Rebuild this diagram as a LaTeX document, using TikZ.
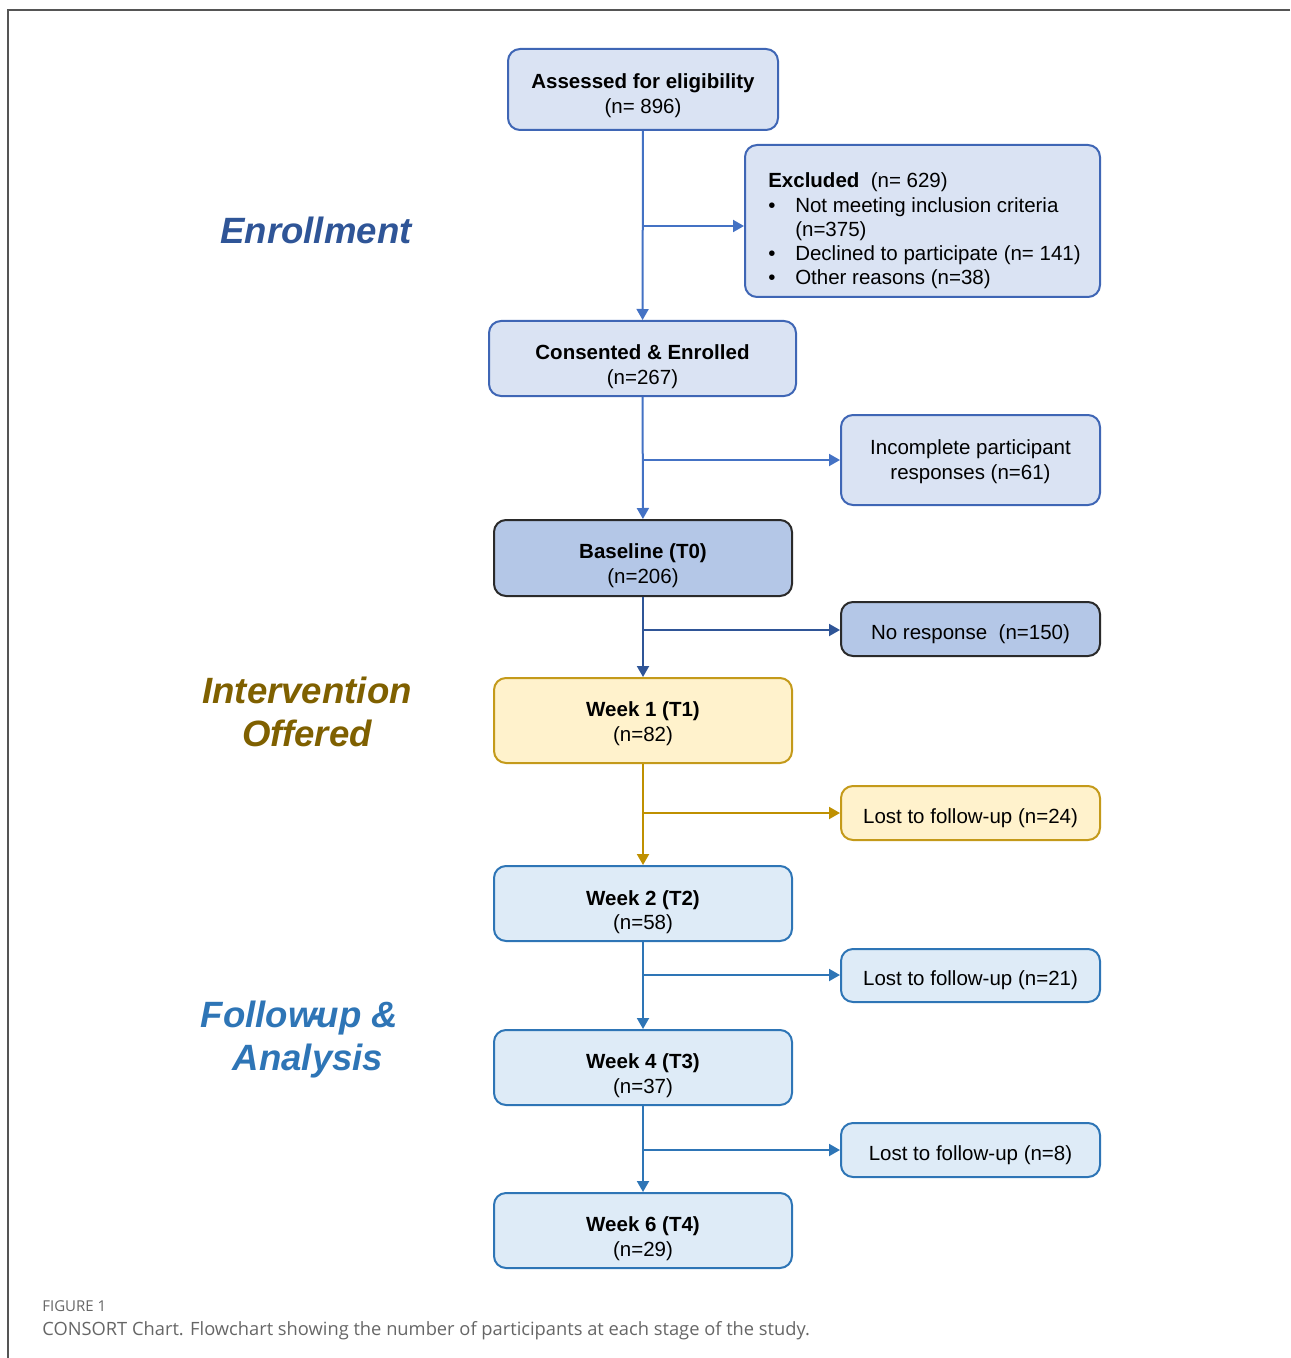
\documentclass[tikz,border=0pt]{standalone}
\usepackage{fontspec}
\setmainfont{Liberation Sans}
\newfontfamily\capfont{Open Sans}
\usetikzlibrary{arrows.meta}
\definecolor{fillA}{HTML}{DAE3F3}
\definecolor{fillB}{HTML}{B4C7E7}
\definecolor{fillY}{HTML}{FFF2CC}
\definecolor{fillW}{HTML}{DEEBF7}
\definecolor{drA}{HTML}{3F66B5}
\definecolor{drB}{HTML}{2A2A2A}
\definecolor{drY}{HTML}{C49A1A}
\definecolor{drW}{HTML}{2E75B6}
\definecolor{arA}{HTML}{4472C4}
\definecolor{arB}{HTML}{2F5597}
\definecolor{arY}{HTML}{BF9000}
\definecolor{arW}{HTML}{2E75B6}
\definecolor{enrc}{HTML}{2F5597}
\definecolor{intc}{HTML}{7F6000}
\definecolor{folc}{HTML}{2E75B6}
\definecolor{capgray}{HTML}{666666}
\definecolor{framegray}{HTML}{555555}
\newcommand{\lift}[1]{\rule{0pt}{#1}}
\begin{document}
\begin{tikzpicture}[x=0.5pt,y=-0.5pt,
  box/.style={draw, rounded corners=6pt, line width=1pt, align=center, inner sep=2pt,
    font=\fontsize{10.25}{12.15}\selectfont},
  tsh/.style={execute at begin node={\rule{0pt}{#1}}},
  boxA/.style={box, draw=drA, fill=fillA},
  boxB/.style={box, draw=drB, fill=fillB},
  boxY/.style={box, draw=drY, fill=fillY},
  boxW/.style={box, draw=drW, fill=fillW},
  mainw/.style={minimum width=149pt},
  sidew/.style={minimum width=129.5pt},
  flow/.style={line width=1pt, -{Triangle[length=5.5pt,width=6pt]}},
  stage/.style={font=\fontsize{18.3}{21.5}\selectfont\bfseries\itshape, align=center}
]
\useasboundingbox (0,0) rectangle (1290,1358);
% frame
\draw[framegray, line width=1pt] (1290,10) -- (8,10) -- (8,1358);

% boxes
\node[boxA, minimum width=135pt, minimum height=40.5pt] (assess) at (643,89.5)
  {\lift{13.5pt}\textbf{Assessed for eligibility}\\(n= 896)};
\node[boxA, minimum width=177.5pt, minimum height=76pt, align=left] (excl) at (922.5,221)
  {\lift{17.5pt}\hspace*{2pt}\textbf{Excluded}\ \ (n= 629)\\
   \hspace*{2pt}\makebox[13.5pt][l]{\textbullet}Not meeting inclusion criteria\\
   \hspace*{15.5pt}(n=375)\\
   \hspace*{2pt}\makebox[13.5pt][l]{\textbullet}Declined to participate (n= 141)\\
   \hspace*{2pt}\makebox[13.5pt][l]{\textbullet}Other reasons (n=38)};
\node[boxA, minimum width=153.5pt, minimum height=37.5pt] (cons) at (642.5,358.5)
  {\lift{15.5pt}\textbf{Consented \& Enrolled}\\(n=267)};
\node[boxA, sidew, minimum height=45pt] (incomp) at (970.5,460)
  {\lift{9pt}Incomplete participant\\responses (n=61)};
\node[boxB, mainw, minimum height=38pt] (base) at (643,558)
  {\lift{15pt}\textbf{Baseline (T0)}\\(n=206)};
\node[boxB, tsh=12.6pt, sidew, minimum height=27pt] (nores) at (970.5,629)
  {No response\ \ (n=150)};
\node[boxY, mainw, minimum height=42.5pt] (w1) at (643,720.5)
  {\lift{10.5pt}\textbf{Week 1 (T1)}\\(n=82)};
\node[boxY, tsh=12.6pt, sidew, minimum height=27pt] (lost1) at (970.5,813)
  {Lost to follow-up (n=24)};
\node[boxW, mainw, minimum height=37.5pt] (w2) at (643,903.5)
  {\lift{16pt}\textbf{Week 2 (T2)}\\(n=58)};
\node[boxW, tsh=12.6pt, sidew, minimum height=26.5pt] (lost2) at (970.5,975.5)
  {Lost to follow-up (n=21)};
\node[boxW, mainw, minimum height=37.5pt] (w4) at (643,1067.5)
  {\lift{15.5pt}\textbf{Week 4 (T3)}\\(n=37)};
\node[boxW, tsh=12.6pt, sidew, minimum height=27pt] (lost3) at (970.5,1150)
  {Lost to follow-up (n=8)};
\node[boxW, mainw, minimum height=37.5pt] (w6) at (643,1230.5)
  {\lift{15.5pt}\textbf{Week 6 (T4)}\\(n=29)};

% junction points
\coordinate (j1) at (643,226);
\coordinate (j2) at (643,460);
\coordinate (j3) at (643,630);
\coordinate (j4) at (643,813);
\coordinate (j5) at (643,975);
\coordinate (j6) at (643,1150);

% connectors
\draw[flow, arA] (assess) -- (cons);
\draw[flow, arA] (j1) -- (j1 -| excl.west);
\draw[flow, arA] (cons) -- (base);
\draw[flow, arA] (j2) -- (j2 -| incomp.west);
\draw[flow, arB] (base) -- (w1);
\draw[flow, arB] (j3) -- (j3 -| nores.west);
\draw[flow, arY] (w1) -- (w2);
\draw[flow, arY] (j4) -- (j4 -| lost1.west);
\draw[flow, arW] (w2) -- (w4);
\draw[flow, arW] (j5) -- (j5 -| lost2.west);
\draw[flow, arW] (w4) -- (w6);
\draw[flow, arW] (j6) -- (j6 -| lost3.west);

% stage labels
\node[stage, text=enrc] (lenr) at (316,230) {Enrollment};
\node[stage, text=intc] (lint) at (307,712) {Intervention\\Offered};
\node[stage, text=folc] (lfol) at (308,1040) {Follow\makebox[0pt]{-}up \&\hspace*{8.5pt}\\Analysis};

% caption
\node[anchor=base west, inner sep=0pt, font=\capfont\fontsize{7.5}{9}\selectfont, text=capgray] (fig) at (42,1311) {FIGURE 1};
\node[anchor=base west, inner sep=0pt, font=\capfont\fontsize{9.15}{11}\selectfont, text=capgray] (cap) at (42,1335)
  {CONSORT Chart. Flowchart showing the number of participants at each stage of the study.};
\end{tikzpicture}
\end{document}
